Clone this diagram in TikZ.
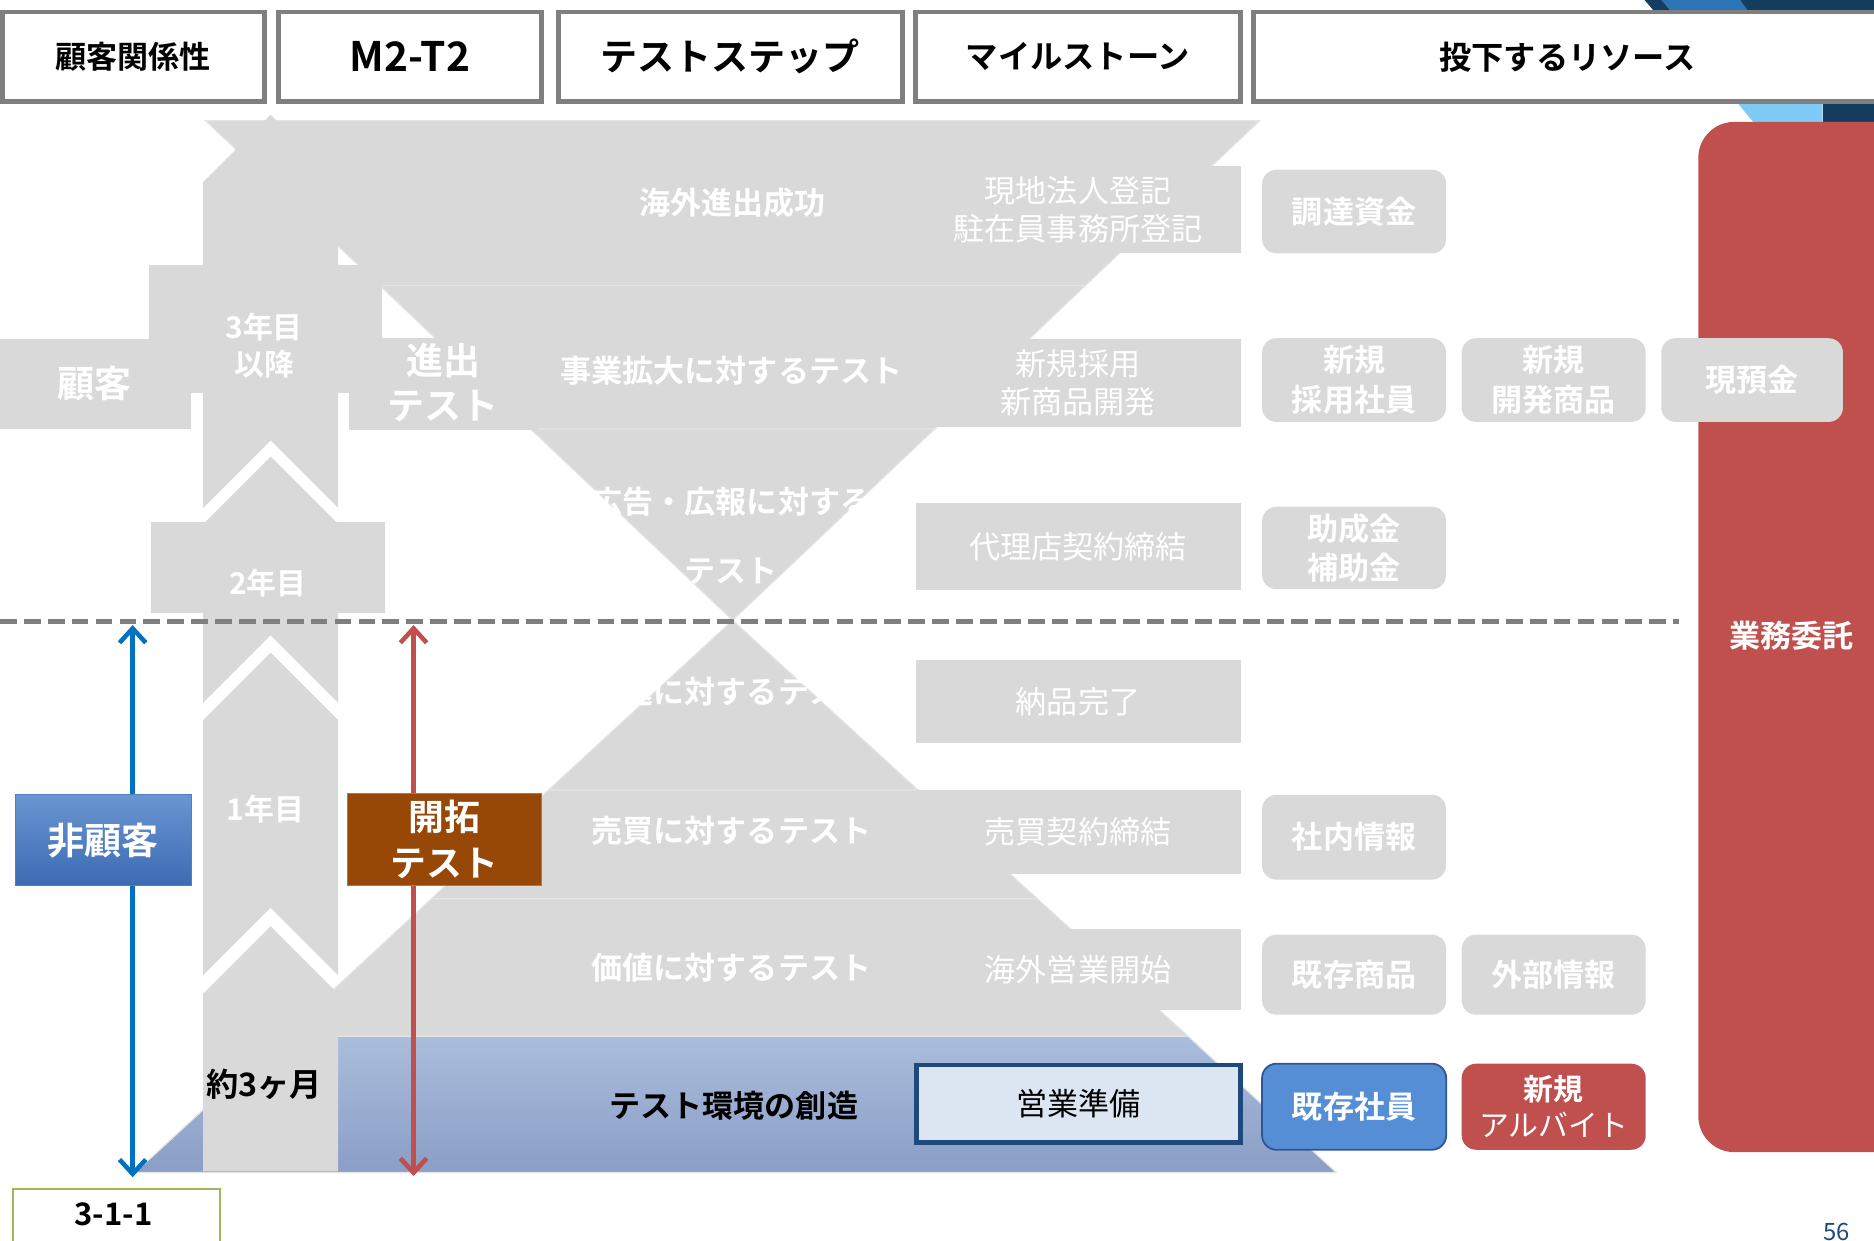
\documentclass[tikz,border=0pt]{standalone}
\usepackage{fontspec}
\setmainfont{Noto Sans CJK JP}[BoldFont={Noto Sans CJK JP Bold}]
\usetikzlibrary{arrows.meta}
\definecolor{lg}{HTML}{D9D9D9}
\definecolor{lgline}{HTML}{E4E4E4}
\definecolor{hgray}{HTML}{7F7F7F}
\definecolor{redbox}{HTML}{C0504D}
\definecolor{kbrown}{HTML}{974706}
\definecolor{kbrownb}{HTML}{C0703A}
\definecolor{hkTop}{HTML}{6A95D2}
\definecolor{hkBot}{HTML}{3B6BB3}
\definecolor{hkB}{HTML}{4F81BD}
\definecolor{envTop}{HTML}{ABBDDC}
\definecolor{envBot}{HTML}{8A9EC6}
\definecolor{eigyoFill}{HTML}{DCE6F2}
\definecolor{navyb}{HTML}{1F497D}
\definecolor{kizon}{HTML}{558ED5}
\definecolor{kizonb}{HTML}{2F5597}
\definecolor{arrBlue}{HTML}{0070C0}
\definecolor{green311}{HTML}{9BBB59}
\definecolor{pgnum}{HTML}{1F497D}
\definecolor{decoNavy}{HTML}{153D5E}
\definecolor{decoBlue}{HTML}{2E75B6}
\definecolor{decoLight}{HTML}{7FCBF5}
\newcommand\fsz[2]{\fontsize{#1}{#2}\selectfont}
\begin{document}
\begin{tikzpicture}[x=1pt,y=-1pt,
  hdr/.style={draw=hgray, line width=4pt, fill=white, inner sep=0pt, minimum height=75pt, text=black},
  lbl/.style={text=white, font=\bfseries\fsz{26}{32}, align=center, inner sep=0pt},
  mst/.style={fill=lg, minimum width=272pt, inner sep=0pt, text=white, font=\fsz{26}{32}, align=center},
  resbox/.style={fill=lg, rounded corners=12pt, minimum width=154pt, inner sep=0pt, text=white, font=\bfseries\fsz{26}{33}, align=center},
  layer/.style={fill=lg, draw=lgline, line width=1pt},
  col/.style={fill=lg},
  colt/.style={text=white, font=\bfseries\fsz{25}{31}, align=center, inner sep=0pt},
  arrw/.style={line width=3.8pt, {Straight Barb[length=12pt,width=22pt]}-{Straight Barb[length=12pt,width=22pt]}}
]
\useasboundingbox (0,0) rectangle (1568,1038);

% top-right decoration
\fill[decoNavy] (1376,0) -- (1568,0) -- (1568,14) -- (1388,14) -- cycle;
\fill[decoBlue] (1390,0) -- (1456,0) -- (1466,14) -- (1402,14) -- cycle;
\fill[decoLight] (1452,84) -- (1525,84) -- (1525,118) -- (1480,118) -- cycle;
\fill[decoNavy] (1525,84) rectangle (1568,118);

% header
\node[hdr, minimum width=219pt, font=\bfseries\fsz{26}{30}] (h1) at (111.5,47.5) {顧客関係性};
\node[hdr, minimum width=220pt, font=\bfseries\fsz{34}{38}] (h2) at (343,47.5) {M2-T2};
\node[hdr, minimum width=288pt, font=\bfseries\fsz{31}{36}] (h3) at (611,47.5) {テストステップ};
\node[hdr, minimum width=272pt, font=\bfseries\fsz{27}{32}] (h4) at (902,47.5) {マイルストーン};
\node[hdr, minimum width=525pt, font=\bfseries\fsz{27}{32}] (h5) at (1311.5,47.5) {投下するリソース};

% big red resource column
\node[fill=redbox, rounded corners=30pt, minimum width=180pt, minimum height=862pt, inner sep=0pt] (gyomu) at (1511,533) {};

% upper inverted triangle
\path[layer] (172,101) -- (1054,101) -- (908,239) -- (318,239) -- cycle;
\path[layer] (318,239) -- (908,239) -- (782,359) -- (444,359) -- cycle;
\path[layer] (444,359) -- (782,359) -- (613,519) -- cycle;
% lower pyramid
\path[layer] (613,519) -- (768,661) -- (459,661) -- cycle;
\path[layer] (459,661) -- (768,661) -- (868,752) -- (361,752) -- cycle;
\path[layer] (361,752) -- (868,752) -- (994,867) -- (237,867) -- cycle;
\shade[top color=envTop, bottom color=envBot, draw=lgline, line width=1pt] (237,867) -- (994,867) -- (1118,981) -- (113,981) -- cycle;

% milestones
\node[mst, minimum height=73pt] (m1) at (902,175.5) {現地法人登記\\駐在員事務所登記};
\node[mst, minimum height=73pt] (m2) at (902,320.5) {新規採用\\新商品開発};
\node[mst, minimum height=73pt] (m3) at (902,457.5) {代理店契約締結};
\node[mst, minimum height=70pt] (m4) at (902,587) {納品完了};
\node[mst, minimum height=70pt] (m5) at (902,696) {売買契約締結};
\node[mst, minimum height=68pt] (m6) at (902,811) {海外営業開始};
\node[fill=eigyoFill, draw=navyb, line width=4pt, minimum width=271pt, minimum height=65pt, inner sep=0pt, font=\fsz{26}{32}] (m7) at (902.5,923.5) {営業準備};

% M2-T2 column
\fill[col] (125,222) rectangle (320,329);
\fill[col] (126,437) rectangle (322,513);
\fill[col] (226.5,96) -- (283,152.5) -- (283,425) -- (226.5,368.5) -- (170,425) -- (170,152.5) -- cycle;
\fill[col] (226.5,382) -- (283,438.5) -- (283,588) -- (226.5,531.5) -- (170,588) -- (170,438.5) -- cycle;
\fill[col] (226.5,546) -- (283,602.5) -- (283,816) -- (226.5,759.5) -- (170,816) -- (170,602.5) -- cycle;
\fill[col] (226.5,775) -- (283,831.5) -- (283,980) -- (170,980) -- (170,831.5) -- cycle;
\fill[col] (0,284) rectangle (160,359);
\fill[col] (292,283) rectangle (450,360);

% dashed divider
\coordinate (dA) at (0,520);
\coordinate (dB) at (1405,520);
\draw[hgray, line width=4.5pt, dash pattern=on 14pt off 6pt] (dA) -- (dB);

% arrows
\coordinate (bA) at (111,523);
\coordinate (bB) at (111,985);
\coordinate (rA) at (346,523);
\coordinate (rB) at (346,984);
\draw[arrw, draw=arrBlue] (bA) -- (bB);
\draw[arrw, draw=redbox] (rA) -- (rB);

% left boxes
\node[top color=hkTop, bottom color=hkBot, draw=hkB, line width=1pt, minimum width=147pt, minimum height=76pt, inner sep=0pt, text=white, font=\bfseries\fsz{31}{36}] (hiko) at (86.5,703) {非顧客};
\node[fill=kbrown, draw=kbrownb, line width=1pt, minimum width=162pt, minimum height=77pt, inner sep=0pt, text=white, font=\bfseries\fsz{30}{38}, align=center] (kaitaku) at (372,702.5) {開拓\\テスト};

% resources
\node[resbox, minimum height=70pt] (r1) at (1133,177) {調達資金};
\node[resbox, minimum height=70pt] (r2a) at (1133,318) {新規\\採用社員};
\node[resbox, minimum height=70pt] (r2b) at (1300,318) {新規\\開発商品};
\node[resbox, minimum height=70pt, minimum width=152pt] (r2c) at (1466,318) {現預金};
\node[resbox, minimum height=69pt] (r3) at (1133,458.5) {助成金\\補助金};
\node[resbox, minimum height=71pt] (r5) at (1133,700.5) {社内情報};
\node[resbox, minimum height=67pt] (r6a) at (1133,815.5) {既存商品};
\node[resbox, minimum height=67pt] (r6b) at (1300,815.5) {外部情報};
\node[resbox, minimum height=72pt, fill=kizon, draw=kizonb, line width=1.5pt] (r7a) at (1133,926) {既存社員};
\node[resbox, minimum height=72pt, fill=redbox, font=\fsz{25}{30}] (r7b) at (1300,926) {{\bfseries 新規}\\アルバイト};
\node[text=white, font=\bfseries\fsz{26}{30}, inner sep=0pt] (gyomut) at (1499,532) {業務委託};

% column texts
\node[text=white, font=\bfseries\fsz{31}{36}, inner sep=0pt] (kokyaku) at (79,321) {顧客};
\node[colt] (y3) at (221,289) {3年目\\以降};
\node[colt] (y2) at (224,488) {2年目};
\node[colt] (y1) at (222,677) {1年目};
\node[text=black, font=\bfseries\fsz{27}{30}, inner sep=0pt] (m3t) at (221,907) {約3ヶ月};
\node[text=white, font=\bfseries\fsz{31}{37}, align=center, inner sep=0pt] (shin) at (371,320) {進出\\テスト};

% layer labels
\node[lbl] (l1) at (613,170) {海外進出成功};
\node[lbl] (l2) at (612,310) {事業拡大に対するテスト};
\node[lbl] (l3a) at (612,420) {広告・広報に対する};
\node[lbl] (l3b) at (612,478) {テスト};
\node[lbl] (l4) at (612,579) {配送に対するテスト};
\node[lbl] (l5) at (612,695) {売買に対するテスト};
\node[lbl] (l6) at (612,810) {価値に対するテスト};
\node[lbl, text=black] (l7) at (614,925) {テスト環境の創造};

% footer
\node[draw=green311, line width=2pt, fill=white, minimum width=173pt, minimum height=50pt, inner sep=0pt] (sec) at (97.5,1020) {};
\node[font=\bfseries\fsz{26}{30}, inner sep=0pt] (sectxt) at (95,1016) {3-1-1};
\node[text=pgnum, font=\fsz{20}{24}, inner sep=0pt] (pg) at (1537,1031) {56};
\end{tikzpicture}
\end{document}
